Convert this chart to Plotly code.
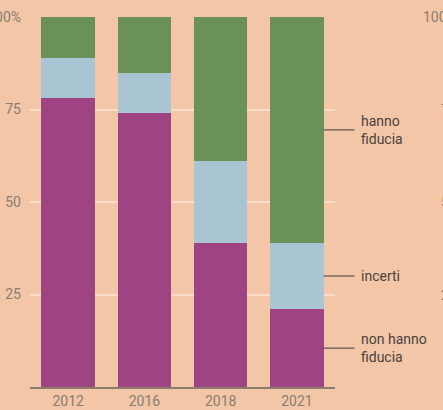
import plotly.graph_objects as go

# Survey shares (%) by year
years = ["2012", "2016", "2018", "2021"]
non_hanno_fiducia = [78, 74, 39, 21]
incerti = [11, 11, 22, 18]
hanno_fiducia = [11, 15, 39, 61]

series_names = ["non hanno<br>fiducia", "incerti", "hanno<br>fiducia"]
series_values = [non_hanno_fiducia, incerti, hanno_fiducia]
series_colors = ["#9e4483", "#a9c5d4", "#6a9158"]

y_ticks = [25, 50, 75, 100]
y_ticktext = ["25", "50", "75", "100%"]

BG = "#f2c6a7"
GRID = "#f8dcc8"
TICK_COLOR = "#8a7c72"
LABEL_COLOR = "#4a423e"
FONT = "Roboto"

W, H = 443, 410
M_L, M_R, M_T, M_B = 30, 108, 17, 23
plot_w = W - M_L - M_R
BARGAP = 0.3

fig = go.Figure()
for name, vals, col in zip(series_names, series_values, series_colors):
    fig.add_trace(go.Bar(x=years, y=vals, name=name, marker=dict(color=col, line=dict(width=0)),
                         hoverinfo="skip"))

# Leader lines and labels at the middle of each segment of the last bar
n = len(years)
last = n - 1
bar_right = (last + 0.5 + (1 - BARGAP) / 2) / n          # paper x of last bar's right edge
line_end = bar_right + 31 / plot_w
text_x = bar_right + 35 / plot_w
base = 0
for name, vals in zip(series_names, series_values):
    mid = base + vals[last] / 2
    base += vals[last]
    fig.add_shape(type="line", xref="paper", yref="paper",
                  x0=bar_right, x1=line_end, y0=mid / 100, y1=mid / 100,
                  line=dict(color="#675c56", width=1.3))
    fig.add_annotation(x=text_x, y=mid / 100, xref="paper", yref="paper",
                       text=name, showarrow=False, xanchor="left", yanchor="middle",
                       align="left", font=dict(family=FONT, size=14, color=LABEL_COLOR))

# Tick labels of the neighbouring panel, running past the right edge
for v, t in zip(y_ticks, y_ticktext):
    fig.add_annotation(x=(459 - M_L) / plot_w, y=v / 100, xref="paper", yref="paper",
                       text=t, showarrow=False, xanchor="right", yanchor="middle",
                       font=dict(family=FONT, size=14, color=TICK_COLOR))

fig.update_layout(
    barmode="stack",
    bargap=BARGAP,
    width=W, height=H,
    margin=dict(l=M_L, r=M_R, t=M_T, b=M_B, autoexpand=False),
    paper_bgcolor=BG, plot_bgcolor=BG,
    showlegend=False,
    font=dict(family=FONT, size=14, color=TICK_COLOR),
)
fig.update_xaxes(type="category", range=[-0.5, 3.5], showgrid=False, automargin=False,
                 showline=True, linecolor="#8c7c6e", linewidth=1.5,
                 ticks="", tickfont=dict(family=FONT, size=14, color=TICK_COLOR))
fig.update_yaxes(range=[0, 100], tickvals=y_ticks, ticktext=y_ticktext, automargin=False,
                 showgrid=True, gridcolor=GRID, gridwidth=1.5, zeroline=False,
                 showline=False, ticks="", ticklabelstandoff=8,
                 tickfont=dict(family=FONT, size=14, color=TICK_COLOR))

fig.write_html("out.html")
